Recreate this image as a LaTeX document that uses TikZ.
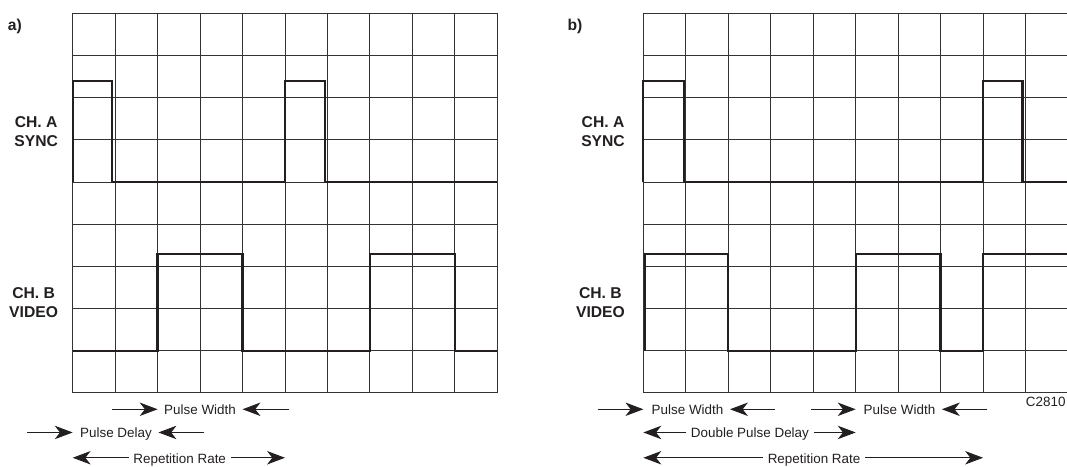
\documentclass[tikz,border=0pt]{standalone}
\usepackage{fontspec}
\setmainfont{Liberation Sans}
\usepackage{xcolor}
\definecolor{cInk}{HTML}{231F20}
\definecolor{cGrid}{HTML}{333333}
\usepackage{tikz}
\usetikzlibrary{arrows.meta}
\tikzset{
  grid-line/.style={draw=cGrid,line width=0.65pt},
  trace/.style={draw=cInk,line width=1.5pt,line join=miter},
  panel-tag/.style={font=\fontsize{10.5}{12.7}\selectfont\bfseries,text=cInk},
  ch-label/.style={anchor=east,align=center,inner sep=0pt,
    font=\fontsize{10.5}{12.7}\selectfont\bfseries,text=cInk},
  span-text/.style={font=\fontsize{9}{11}\selectfont,text=cInk,
    inner sep=3pt,text height=0.72em,text depth=0pt},
  fig-code/.style={anchor=east,inner sep=0pt,font=\fontsize{9}{11}\selectfont,text=cInk},
  arrow/.style={-{Stealth[length=12pt,width=9pt,inset=3.5pt]},draw=cInk,line width=0.65pt},
}

\begin{document}
\begin{tikzpicture}[x=1cm,y=0.993cm]
  \useasboundingbox (-1.712,-1.739) rectangle (23.417,9.317);

  % a) single pulse
  \foreach \i in {0,...,10} \draw[grid-line] (\i,0) -- (\i,9);
  \foreach \j in {0,...,9} \draw[grid-line] (0,\j) -- (10,\j);
  \draw[trace] (0,5) -- (0,7.4) -- (0.93,7.4) -- (0.93,5) -- (5,5) -- (5,7.4)
    -- (5.94,7.4) -- (5.94,5) -- (10,5);
  \draw[trace] (0,1) -- (2,1) -- (2,3.3) -- (4,3.3) -- (4,1) -- (7,1) -- (7,3.3)
    -- (9,3.3) -- (9,1) -- (10,1);
  \node[panel-tag] (a-tag) at (-1.36,8.7) {a)};
  \node[ch-label] (a-cha) at (-0.34,6.2) {CH. A\\SYNC};
  \node[ch-label] (a-chb) at (-0.34,2.15) {CH. B\\VIDEO};

  \node[span-text] (a-width) at (3,-0.39) {Pulse Width};
  \coordinate (a-width-t1) at (0.93,-0.39);
  \coordinate (a-width-h1) at (2,-0.39);
  \coordinate (a-width-t2) at (5.1,-0.39);
  \coordinate (a-width-h2) at (4,-0.39);
  \draw[arrow] (a-width-t1) -- (a-width-h1);
  \draw[arrow] (a-width-t2) -- (a-width-h2);

  \node[span-text] (a-delay) at (1.02,-0.94) {Pulse Delay};
  \coordinate (a-delay-t1) at (-1.08,-0.94);
  \coordinate (a-delay-h1) at (0,-0.94);
  \coordinate (a-delay-t2) at (3.09,-0.94);
  \coordinate (a-delay-h2) at (2.02,-0.94);
  \draw[arrow] (a-delay-t1) -- (a-delay-h1);
  \draw[arrow] (a-delay-t2) -- (a-delay-h2);

  \node[span-text] (a-rate) at (2.52,-1.54) {Repetition Rate};
  \coordinate (a-rate-h1) at (0,-1.54);
  \coordinate (a-rate-h2) at (5,-1.54);
  \draw[arrow] (a-rate.west) -- (a-rate-h1);
  \draw[arrow] (a-rate.east) -- (a-rate-h2);

  % b) double pulse
  \begin{scope}[xshift=13.44cm]
    \foreach \i in {0,...,10} \draw[grid-line] (\i,0) -- (\i,9);
    \foreach \j in {0,...,9} \draw[grid-line] (0,\j) -- (10,\j);
    \draw[trace] (0,5) -- (0,7.4) -- (0.96,7.4) -- (0.96,5) -- (8,5) -- (8,7.4)
      -- (8.93,7.4) -- (8.93,5) -- (10,5);
    \draw[trace] (0.04,1) -- (0.04,3.3) -- (2,3.3) -- (2,1) -- (5,1) -- (5,3.3)
      -- (7,3.3) -- (7,1) -- (8,1) -- (8,3.3) -- (10,3.3);
    \node[panel-tag] (b-tag) at (-1.61,8.7) {b)};
    \node[ch-label] (b-cha) at (-0.43,6.2) {CH. A\\SYNC};
    \node[ch-label] (b-chb) at (-0.43,2.15) {CH. B\\VIDEO};

    \node[span-text] (b-width1) at (1.04,-0.39) {Pulse Width};
    \coordinate (b-width1-t1) at (-1.08,-0.39);
    \coordinate (b-width1-h1) at (0,-0.39);
    \coordinate (b-width1-t2) at (3.1,-0.39);
    \coordinate (b-width1-h2) at (2.04,-0.39);
    \draw[arrow] (b-width1-t1) -- (b-width1-h1);
    \draw[arrow] (b-width1-t2) -- (b-width1-h2);

    \node[span-text] (b-width2) at (6.03,-0.39) {Pulse Width};
    \coordinate (b-width2-t1) at (3.95,-0.39);
    \coordinate (b-width2-h1) at (5,-0.39);
    \coordinate (b-width2-t2) at (8.1,-0.39);
    \coordinate (b-width2-h2) at (7.03,-0.39);
    \draw[arrow] (b-width2-t1) -- (b-width2-h1);
    \draw[arrow] (b-width2-t2) -- (b-width2-h2);

    \node[span-text] (b-delay) at (2.51,-0.94) {Double Pulse Delay};
    \coordinate (b-delay-h1) at (0,-0.94);
    \coordinate (b-delay-h2) at (5,-0.94);
    \draw[arrow] (b-delay.west) -- (b-delay-h1);
    \draw[arrow] (b-delay.east) -- (b-delay-h2);

    \node[span-text] (b-rate) at (4.02,-1.54) {Repetition Rate};
    \coordinate (b-rate-h1) at (0,-1.54);
    \coordinate (b-rate-h2) at (8,-1.54);
    \draw[arrow] (b-rate.west) -- (b-rate-h1);
    \draw[arrow] (b-rate.east) -- (b-rate-h2);

    \node[fig-code] (b-code) at (9.95,-0.21) {C2810};
  \end{scope}
\end{tikzpicture}
\end{document}
